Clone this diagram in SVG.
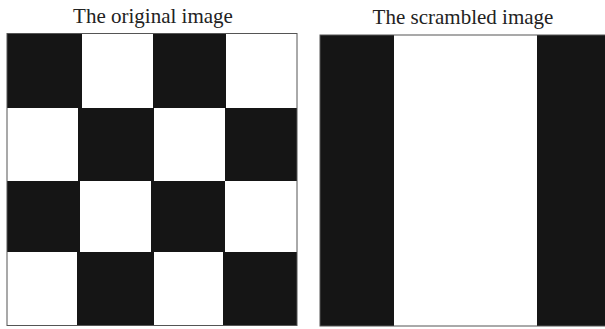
<svg xmlns="http://www.w3.org/2000/svg" width="605" height="329" viewBox="0 0 605 329">
<style>
.t{font-family:"Liberation Serif","Times New Roman",serif;font-size:21px;fill:#222;text-anchor:middle}
.b{fill:#151515}
.fr{fill:none;stroke:#555;stroke-width:1}
</style>
<rect width="605" height="329" fill="#fff"/>
<text class="t" x="153" y="23">The original image</text>
<text class="t" x="463" y="24">The scrambled image</text>
<g id="original">
<rect class="b" x="7" y="34" width="75" height="74"/>
<rect class="b" x="153" y="34" width="73" height="74"/>
<rect class="b" x="78" y="108" width="76" height="73"/>
<rect class="b" x="225" y="108" width="72" height="73"/>
<rect class="b" x="7" y="181" width="73" height="71"/>
<rect class="b" x="151" y="181" width="74" height="71"/>
<rect class="b" x="77" y="252" width="77" height="73"/>
<rect class="b" x="223" y="252" width="74" height="73"/>
<rect class="fr" x="7" y="33.5" width="290" height="292"/>
</g>
<g id="scrambled">
<rect class="b" x="320" y="35" width="74" height="291"/>
<rect class="b" x="537" y="35" width="68" height="291"/>
<rect class="fr" x="320" y="35" width="290" height="291"/>
</g>
</svg>
